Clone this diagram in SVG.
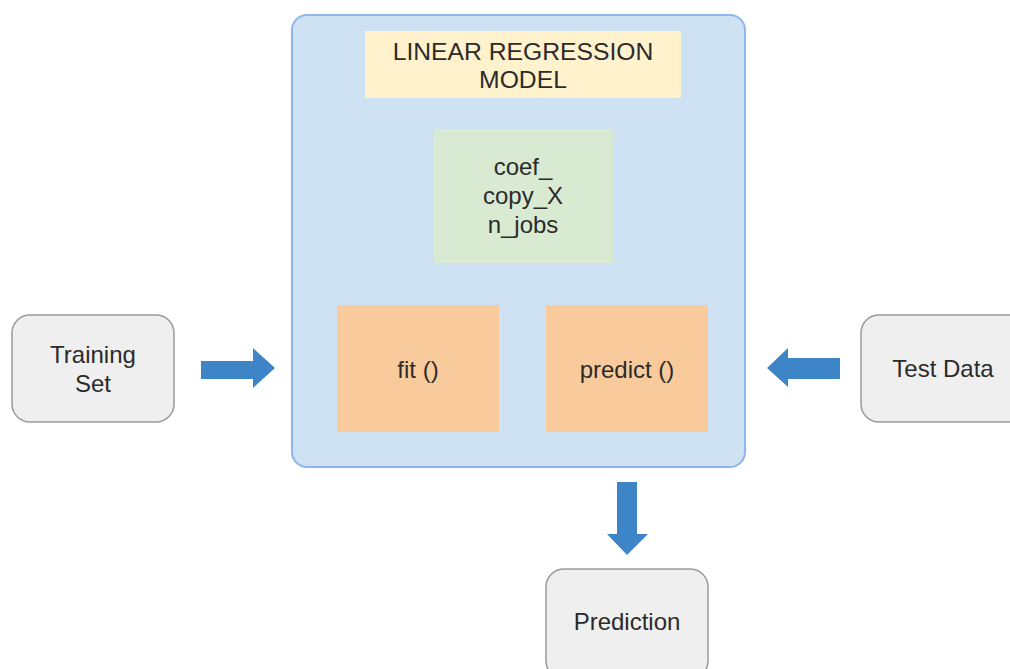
<svg xmlns="http://www.w3.org/2000/svg" width="1010" height="669" viewBox="0 0 1010 669">
  <style>
    .lbl { font-family: "Liberation Sans", Arial, sans-serif; font-size: 24px; fill: #2b2b2b; text-anchor: middle; }
    .io { fill: #efefef; stroke: #9a9a9a; stroke-width: 1.5; }
    .arrow { fill: #3d85c6; }
  </style>
  <rect width="1010" height="669" fill="#ffffff"/>

  <!-- model container -->
  <g id="model">
    <rect x="292" y="15" width="453" height="452" rx="15" fill="#cfe2f3" stroke="#8fb5ee" stroke-width="2"/>
  </g>
  <g id="title">
    <rect x="365" y="31" width="316" height="67" fill="#fff2cc"/>
    <text class="lbl" x="523" y="60" style="font-size:24.7px">LINEAR REGRESSION</text>
    <text class="lbl" x="523" y="88" style="font-size:24.7px">MODEL</text>
  </g>
  <g id="attributes">
    <rect x="434" y="129" width="179" height="134" fill="#d9ead3"/>
    <text class="lbl" x="523" y="175">coef_</text>
    <text class="lbl" x="523" y="204">copy_X</text>
    <text class="lbl" x="523" y="233">n_jobs</text>
  </g>
  <g id="fit">
    <rect x="337" y="305" width="162" height="127" fill="#f9cb9c"/>
    <text class="lbl" x="418" y="378">fit ()</text>
  </g>
  <g id="predict">
    <rect x="546" y="305" width="162" height="127" fill="#f9cb9c"/>
    <text class="lbl" x="627" y="378">predict ()</text>
  </g>

  <!-- inputs and output -->
  <g id="training-set">
    <rect class="io" x="12" y="315" width="162" height="107" rx="18"/>
    <text class="lbl" x="93" y="363">Training</text>
    <text class="lbl" x="93" y="392">Set</text>
  </g>
  <g id="test-data">
    <rect class="io" x="861" y="315" width="165" height="107" rx="18"/>
    <text class="lbl" x="943" y="377">Test Data</text>
  </g>
  <g id="prediction">
    <rect class="io" x="546" y="569" width="162" height="110" rx="18"/>
    <text class="lbl" x="627" y="630">Prediction</text>
  </g>

  <!-- block arrows -->
  <g id="connectors">
    <polygon class="arrow" points="201,361 253,361 253,348 275,368 253,388 253,379 201,379"/>
    <polygon class="arrow" points="840,358 788,358 788,348 767,368 788,387 788,379 840,379"/>
    <polygon class="arrow" points="617,482 637,482 637,534 648,534 627,555 607,534 617,534"/>
  </g>
</svg>
